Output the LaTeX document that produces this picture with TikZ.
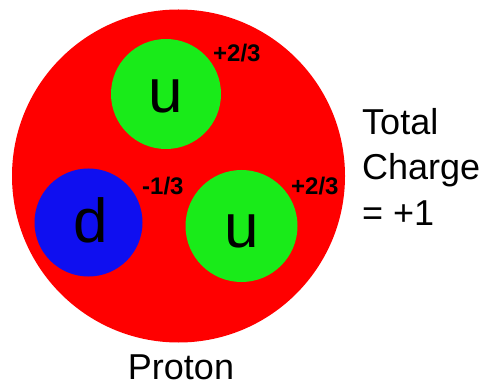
\documentclass[tikz,border=0pt]{standalone}
\usepackage{fontspec}
\setmainfont{Liberation Sans}
\definecolor{pred}{RGB}{255,0,0}
\definecolor{qgreen}{RGB}{25,235,25}
\definecolor{qblue}{RGB}{15,15,240}
\begin{document}
\begin{tikzpicture}[x=1pt,y=-1pt,
  ball/.style={circle,inner sep=0pt,draw=none},
  quark/.style={inner sep=0pt,anchor=base,font=\fontsize{62}{62}\selectfont},
  chg/.style={inner sep=0pt,anchor=base west,font=\fontsize{24}{24}\selectfont\bfseries},
  big/.style={inner sep=0pt,font=\fontsize{36}{36}\selectfont}]
\useasboundingbox (0,0) rectangle (489,387);
\node[ball,fill=pred,minimum size=333pt] (proton) at (178.5,176) {};
\node[ball,fill=qgreen,minimum size=110pt] (u1) at (166,94) {};
\node[ball,fill=qblue,minimum size=108pt] (d) at (88.5,222.5) {};
\node[ball,fill=qgreen,minimum size=112pt] (u2) at (241.5,226) {};
\node[quark] (u1t) at (166,113) {u};
\node[quark] (dt) at (91,242) {d};
\node[quark] (u2t) at (242,247) {u};
\node[chg] (c1) at (213,62) {+2/3};
\node[chg] (c2) at (142,194) {-1/3};
\node[chg] (c3) at (291,194) {+2/3};
\node[big,anchor=base west] (t1) at (362,135) {Total};
\node[big,anchor=base west] (t2) at (362,180) {Charge};
\node[big,anchor=base west] (t3) at (362,225) {= +1};
\node[big,anchor=base] (pl) at (181,379) {Proton};
\end{tikzpicture}
\end{document}
